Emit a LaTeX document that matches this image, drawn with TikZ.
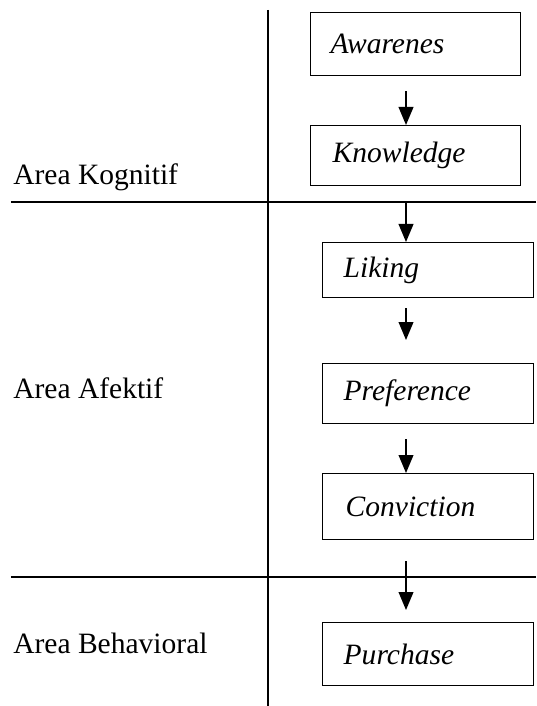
\documentclass[tikz,border=0pt]{standalone}
\usepackage{fontspec}
\setmainfont{Liberation Serif}
\usetikzlibrary{arrows.meta}

\tikzset{
  stage/.style={draw, line width=1pt, rectangle, anchor=north west, inner xsep=0pt,
    font=\fontsize{21}{25}\selectfont\itshape, align=left},
  area/.style={anchor=base west, inner sep=0pt, font=\fontsize{21}{25}\selectfont},
  flow/.style={line width=1pt, -{Triangle[width=0.37cm, length=0.45cm]}},
  rule/.style={line width=1.1pt}
}

\begin{document}
\begin{tikzpicture}
  \useasboundingbox (0cm,0cm) rectangle (13.4cm,-17.65cm);
  % area borders
  \draw[rule] (6.7cm,-0.25cm) -- (6.7cm,-17.65cm);
  \draw[rule] (0.275cm,-5.05cm) coordinate (kog) -- (13.4cm,-5.05cm);
  \draw[rule] (0.275cm,-14.425cm) coordinate (afe) -- (13.4cm,-14.425cm);
  \coordinate (axis) at (10.15cm,0cm);
  % area names
  \node[area] (kognitif) at (0.325cm,-4.625cm) {Area Kognitif};
  \node[area] (afektif) at (0.325cm,-9.95cm) {Area Afektif};
  \node[area] (behavioral) at (0.325cm,-16.325cm) {Area Behavioral};
  % stages
  \node[stage, minimum width=5.25cm, minimum height=1.575cm, text width=4.25cm, inner xsep=0.5cm] (awareness) at (7.75cm,-0.3cm) {Awarenes};
  \node[stage, minimum width=5.25cm, minimum height=1.5cm, text width=4.15cm, inner xsep=0.55cm] (knowledge) at (7.75cm,-3.125cm) {Knowledge};
  \node[stage, minimum width=5.275cm, minimum height=1.375cm, text width=4.225cm, inner xsep=0.525cm] (liking) at (8.05cm,-6.05cm) {Liking};
  \node[stage, minimum width=5.275cm, minimum height=1.5cm, text width=4.225cm, inner xsep=0.525cm] (preference) at (8.05cm,-9.075cm) {Preference};
  \node[stage, minimum width=5.275cm, minimum height=1.65cm, text width=4.125cm, inner xsep=0.575cm] (conviction) at (8.05cm,-11.825cm) {Conviction};
  \node[stage, minimum width=5.275cm, minimum height=1.575cm, text width=4.225cm, inner xsep=0.525cm] (purchase) at (8.05cm,-15.55cm) {Purchase};
  % arrows
  \draw[flow, shorten <=0.375cm] (awareness.south -| axis) -- (knowledge.north -| axis);
  \draw[flow] (kog -| axis) -- (liking.north -| axis);
  \draw[flow, shorten <=0.25cm, shorten >=0.575cm] (liking.south -| axis) -- (preference.north -| axis);
  \draw[flow, shorten <=0.375cm] (preference.south -| axis) -- (conviction.north -| axis);
  \draw[flow, shorten >=0.3cm] (conviction.south -| axis) ++(0cm,-0.525cm) -- (purchase.north -| axis);
\end{tikzpicture}
\end{document}
